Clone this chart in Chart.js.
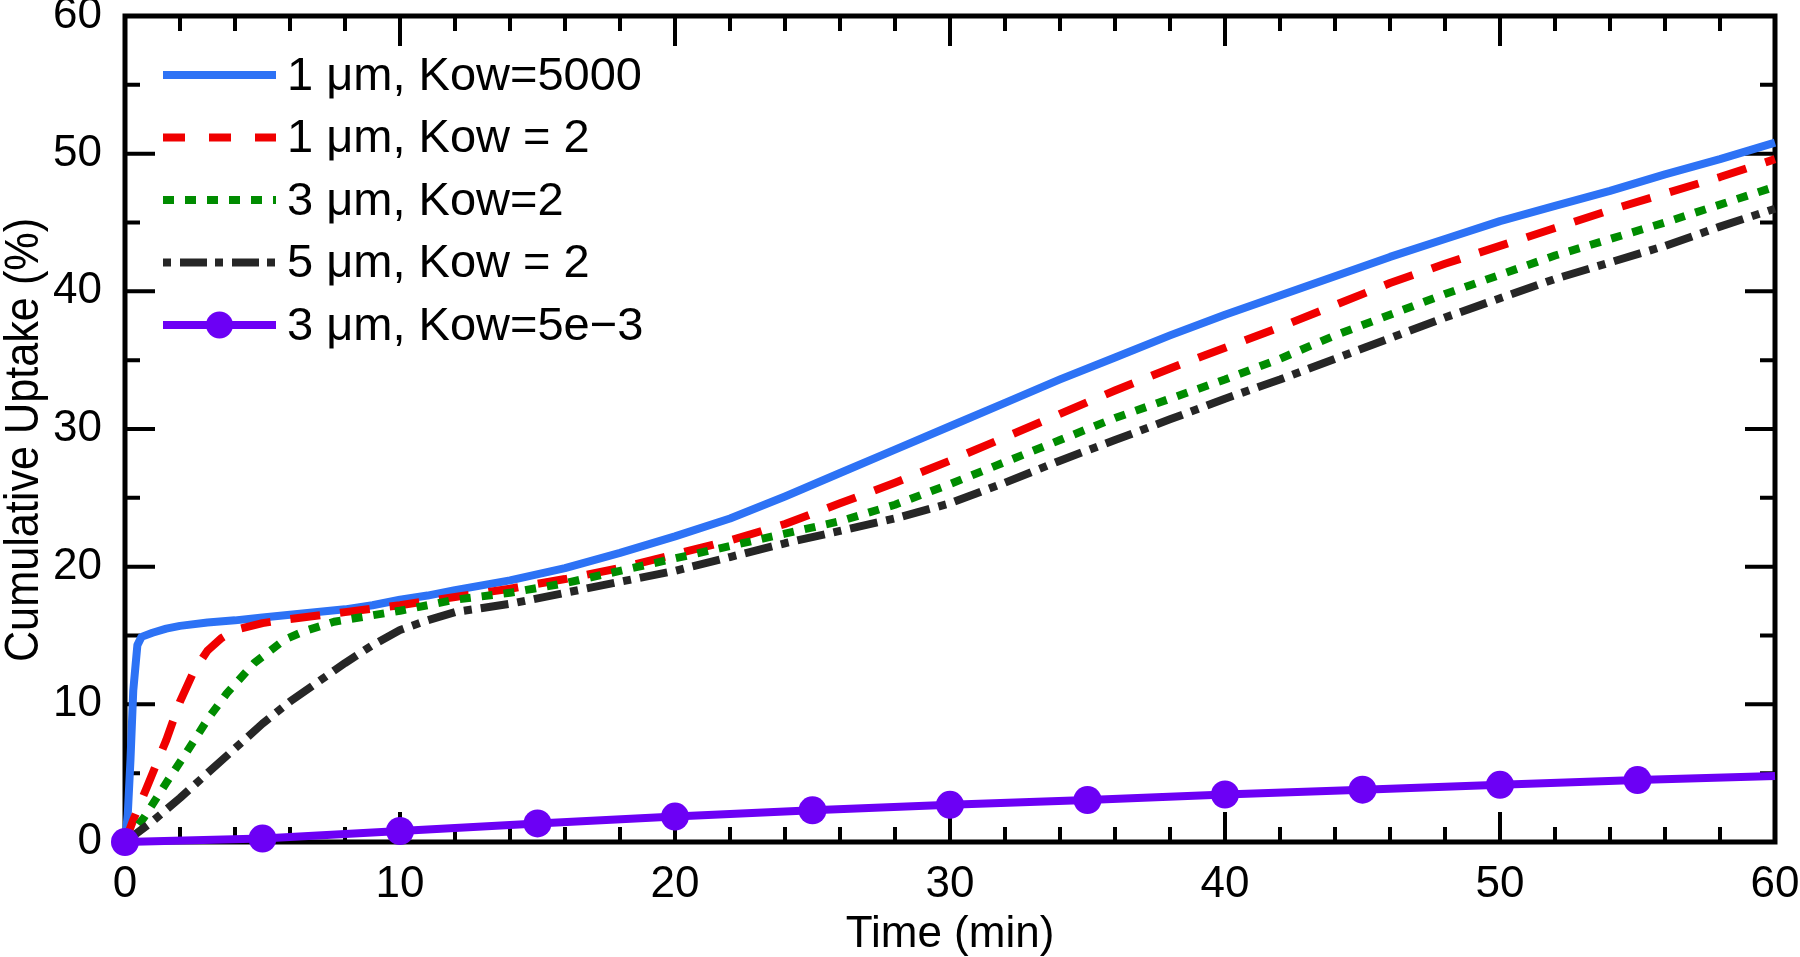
<!doctype html>
<html>
<head>
    <meta charset="UTF-8"/>
    <title>Cumulative Uptake</title>
    <style type="text/css">
        body {
            margin: 0;
            padding: 0;
            background-color: #fff;
        }
        .chartBox {
            width: 1800px;
            height: 957px;
        }
    </style>
</head>
<body>
    <div class="chartBox">
        <canvas id="myChart" width="1800" height="957"></canvas>
    </div>

    <script src="https://cdn.jsdelivr.net/npm/chart.js"></script>

    <script>
        // Series labels
        const seriesLabels = [
            '1 μm, Kow=5000',
            '1 μm, Kow = 2',
            '3 μm, Kow=2',
            '5 μm, Kow = 2',
            '3 μm, Kow=5e\u22123'
        ];

        // 1 um, Kow=5000
        const blueTime = [0, 0.1, 0.2, 0.3, 0.45, 0.6, 1, 1.5, 2, 3, 4, 5, 6, 7, 8, 9, 10, 11, 12, 14, 16, 18, 20, 22, 24, 26, 28, 30, 32, 34, 36, 38, 40, 42, 44, 46, 48, 50, 52, 54, 56, 58, 60];
        const blueUptake = [0, 2, 6, 11, 14.3, 14.9, 15.2, 15.5, 15.7, 15.95, 16.1, 16.3, 16.5, 16.7, 16.9, 17.2, 17.6, 17.9, 18.3, 19.0, 19.9, 21.0, 22.2, 23.5, 25.1, 26.8, 28.5, 30.2, 31.9, 33.6, 35.2, 36.8, 38.3, 39.7, 41.1, 42.5, 43.8, 45.1, 46.2, 47.3, 48.5, 49.6, 50.8];

        // 1 um, Kow = 2
        const redTime = [0, 0.3, 0.8, 1.5, 2, 2.5, 3, 3.5, 4, 5, 6, 8, 10, 12, 14, 16, 18, 20, 22, 24, 26, 28, 30, 32, 34, 36, 38, 40, 42, 44, 46, 48, 50, 52, 54, 56, 58, 60];
        const redUptake = [0, 1.6, 4.0, 7.4, 10.2, 12.4, 13.9, 14.8, 15.4, 15.9, 16.2, 16.7, 17.2, 17.8, 18.4, 19.1, 19.9, 20.9, 21.9, 23.1, 24.6, 26.1, 27.7, 29.4, 31.1, 32.8, 34.4, 35.9, 37.4, 39.0, 40.6, 42.0, 43.3, 44.6, 45.9, 47.1, 48.3, 49.6];

        // 3 um, Kow=2
        const greenTime = [0, 0.7, 1.5, 2.2, 3, 3.7, 4.7, 5.8, 6.5, 7.6, 10, 12, 14, 16, 18, 20, 22, 24, 26, 28, 30, 32, 34, 36, 38, 40, 42, 44, 46, 48, 50, 52, 54, 56, 58, 60];
        const greenUptake = [0, 1.8, 4.3, 6.4, 8.9, 10.8, 13.0, 14.7, 15.3, 16.0, 16.8, 17.6, 18.1, 18.8, 19.7, 20.6, 21.5, 22.4, 23.3, 24.5, 26.0, 27.6, 29.2, 30.8, 32.2, 33.6, 35.1, 36.8, 38.3, 39.8, 41.2, 42.6, 43.8, 45.0, 46.3, 47.6];

        // 5 um, Kow = 2
        const blackTime = [0, 1, 2, 3, 4, 5, 6, 7, 8, 9, 10, 11, 12, 13, 14, 16, 18, 20, 22, 24, 26, 28, 30, 32, 34, 36, 38, 40, 42, 44, 46, 48, 50, 52, 54, 56, 58, 60];
        const blackUptake = [0, 1.5, 3.2, 5.0, 6.8, 8.6, 10.2, 11.6, 13.0, 14.3, 15.4, 16.1, 16.7, 17.0, 17.3, 18.1, 18.9, 19.7, 20.7, 21.7, 22.6, 23.5, 24.6, 26.1, 27.7, 29.2, 30.7, 32.2, 33.6, 35.1, 36.6, 38.1, 39.5, 40.9, 42.1, 43.3, 44.7, 46.0];

        // 3 um, Kow=5e-3 (markers every 5 min)
        const purpleTime = [0, 5, 10, 15, 20, 25, 30, 35, 40, 45, 50, 55, 60];
        const purpleUptake = [0, 0.25, 0.8, 1.35, 1.85, 2.3, 2.7, 3.05, 3.45, 3.8, 4.15, 4.5, 4.8];

        // Axis ticks
        const xTicks = [0, 10, 20, 30, 40, 50, 60];
        const yTicks = [0, 10, 20, 30, 40, 50, 60];
        const xMinorStep = 2;
        const yMinorStep = 5;
        const yTitle = 'Cumulative Uptake (%)';

        const FONT = "'Liberation Sans', Arial, sans-serif";

        function toPoints(xs, ys) {
            return xs.map((t, i) => ({ x: t, y: ys[i] }));
        }

        // Inward ticks on all four sides and the box frame
        const frameTicks = {
            id: 'frameTicks',
            beforeDatasetsDraw(chart) {
                const { ctx, chartArea: a, scales: { x, y } } = chart;
                ctx.save();
                ctx.strokeStyle = '#000';
                ctx.lineWidth = 4;
                ctx.beginPath();
                for (let v = x.min; v <= x.max; v += xMinorStep) {
                    const px = x.getPixelForValue(v);
                    const len = xTicks.includes(v) ? 30 : 15;
                    ctx.moveTo(px, a.bottom); ctx.lineTo(px, a.bottom - len);
                    ctx.moveTo(px, a.top); ctx.lineTo(px, a.top + len);
                }
                for (let v = y.min; v <= y.max; v += yMinorStep) {
                    const py = y.getPixelForValue(v);
                    const len = yTicks.includes(v) ? 30 : 15;
                    ctx.moveTo(a.left, py); ctx.lineTo(a.left + len, py);
                    ctx.moveTo(a.right, py); ctx.lineTo(a.right - len, py);
                }
                ctx.stroke();
                ctx.lineWidth = 5;
                ctx.strokeRect(a.left, a.top, a.right - a.left, a.bottom - a.top);
                ctx.restore();
            }
        };

        // Legend in the upper left corner, plus the rotated y title
        const boxLegend = {
            id: 'boxLegend',
            afterDraw(chart) {
                const { ctx, chartArea: a } = chart;
                const x0 = a.left + 38, x1 = a.left + 151, textX = a.left + 162;
                ctx.save();
                chart.data.datasets.forEach((ds, i) => {
                    const yy = a.top + 59 + i * 62.5;
                    ctx.strokeStyle = ds.borderColor;
                    ctx.lineWidth = ds.borderWidth;
                    ctx.setLineDash(ds.legendDash || ds.borderDash || []);
                    ctx.beginPath();
                    ctx.moveTo(x0, yy);
                    ctx.lineTo(x1, yy);
                    ctx.stroke();
                    ctx.setLineDash([]);
                    if (ds.legendMarker) {
                        ctx.fillStyle = ds.borderColor;
                        ctx.beginPath();
                        ctx.arc((x0 + x1) / 2, yy, 13.5, 0, Math.PI * 2);
                        ctx.fill();
                    }
                    ctx.fillStyle = '#000';
                    ctx.font = '47px ' + FONT;
                    ctx.textAlign = 'left';
                    ctx.textBaseline = 'middle';
                    ctx.fillText(ds.label, textX, yy + 2);
                });

                // y axis title
                ctx.translate(25, (a.top + a.bottom) / 2 + 11);
                ctx.rotate(-Math.PI / 2);
                ctx.scale(0.9, 1);
                ctx.font = '48px ' + FONT;
                ctx.textAlign = 'center';
                ctx.textBaseline = 'middle';
                ctx.fillStyle = '#000';
                ctx.fillText(yTitle, 0, 0);
                ctx.restore();
            }
        };

        const data = {
            datasets: [
                {
                    label: seriesLabels[0],
                    data: toPoints(blueTime, blueUptake),
                    borderColor: '#2d72f5',
                    borderWidth: 8,
                    pointRadius: 0,
                    order: 5
                },
                {
                    label: seriesLabels[1],
                    data: toPoints(redTime, redUptake),
                    borderColor: '#f00000',
                    borderWidth: 8,
                    borderDash: [30, 20],
                    legendDash: [22, 24],
                    pointRadius: 0,
                    order: 4
                },
                {
                    label: seriesLabels[2],
                    data: toPoints(greenTime, greenUptake),
                    borderColor: '#008c00',
                    borderWidth: 8,
                    borderDash: [11, 11],
                    pointRadius: 0,
                    order: 3
                },
                {
                    label: seriesLabels[3],
                    data: toPoints(blackTime, blackUptake),
                    borderColor: '#262626',
                    borderWidth: 8,
                    borderDash: [28, 9, 8, 9],
                    legendDash: [8, 9, 27, 8],
                    pointRadius: 0,
                    order: 2
                },
                {
                    label: seriesLabels[4],
                    data: toPoints(purpleTime, purpleUptake),
                    borderColor: '#6c00f5',
                    backgroundColor: '#6c00f5',
                    borderWidth: 8,
                    pointRadius: purpleTime.map(t => (t < 60 ? 14 : 0)),
                    pointBorderWidth: 0,
                    legendMarker: true,
                    order: 1
                }
            ]
        };

        const config = {
            type: 'line',
            data: data,
            plugins: [frameTicks, boxLegend],
            options: {
                responsive: false,
                animation: false,
                events: [],
                layout: {
                    padding: { left: 0, right: 25, top: 16, bottom: 0 }
                },
                datasets: {
                    line: { tension: 0, fill: false, clip: false, borderCapStyle: 'butt', borderJoinStyle: 'round' }
                },
                plugins: {
                    legend: { display: false },
                    tooltip: { enabled: false }
                },
                scales: {
                    x: {
                        type: 'linear',
                        min: 0,
                        max: 60,
                        afterBuildTicks: s => { s.ticks = xTicks.map(v => ({ value: v })); },
                        afterFit: s => { s.height = 115; s.paddingLeft = 0; s.paddingRight = 0; },
                        grid: { display: false },
                        border: { display: false },
                        ticks: {
                            autoSkip: false,
                            maxRotation: 0,
                            padding: 8,
                            color: '#000',
                            font: { family: FONT, size: 44 }
                        },
                        title: {
                            display: true,
                            text: 'Time (min)',
                            color: '#000',
                            padding: { top: 0, bottom: 0 },
                            font: { family: FONT, size: 44, lineHeight: 1 }
                        }
                    },
                    y: {
                        type: 'linear',
                        min: 0,
                        max: 60,
                        afterBuildTicks: s => { s.ticks = yTicks.map(v => ({ value: v })); },
                        afterFit: s => { s.width = 125; s.paddingTop = 0; s.paddingBottom = 0; },
                        grid: { display: false },
                        border: { display: false },
                        ticks: {
                            autoSkip: false,
                            padding: 15,
                            color: '#000',
                            font: { family: FONT, size: 44 }
                        },
                        title: { display: false }
                    }
                }
            }
        };

        const myChart = new Chart(
            document.getElementById('myChart'),
            config
        );
    </script>
</body>
</html>
